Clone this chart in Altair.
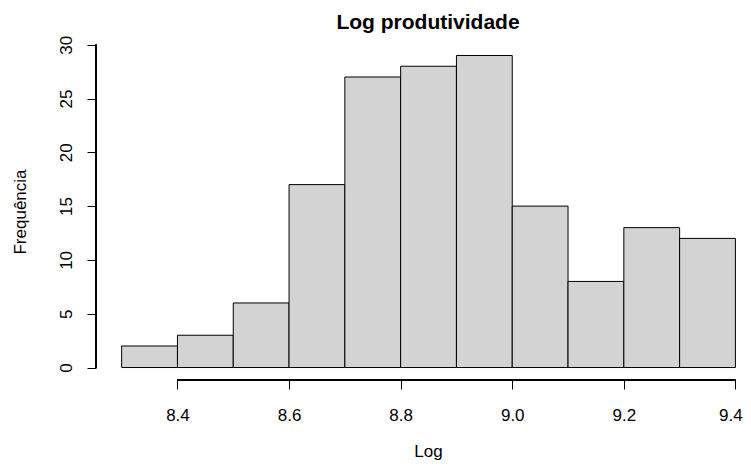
import altair as alt
import pandas as pd

bin_start = [8.3, 8.4, 8.5, 8.6, 8.7, 8.8, 8.9, 9.0, 9.1, 9.2, 9.3]
bin_end = [8.4, 8.5, 8.6, 8.7, 8.8, 8.9, 9.0, 9.1, 9.2, 9.3, 9.4]
counts = [2, 3, 6, 17, 27, 28, 29, 15, 8, 13, 12]
x_ticks = [8.4, 8.6, 8.8, 9.0, 9.2, 9.4]
y_ticks = [0, 5, 10, 15, 20, 25, 30]

df = pd.DataFrame({"start": bin_start, "end": bin_end, "count": counts})

FONT = "Liberation Sans"
W, H = 645, 337

xscale = alt.Scale(domain=[8.254, 9.41], nice=False, zero=False)
yscale = alt.Scale(domain=[-1.16, 30.16], nice=False, zero=False)

x_axis = alt.Axis(
    values=x_ticks, format=".1f", domain=False, grid=False,
    tickSize=9, tickColor="black", tickWidth=1,
    labelFont=FONT, labelFontSize=17, labelColor="black",
    labelBaseline="alphabetic", labelAlign="center", labelPadding=31,
    labelOffset=alt.expr("datum.value >= 9.35 ? -5 : 0"),
    title="Log", titleFont=FONT, titleFontSize=17, titleFontWeight="normal",
    titleColor="black", titleX=332, titleY=76, titleBaseline="alphabetic",
    titleAlign="center", labelFlush=False, labelOverlap=False,
)
y_axis = alt.Axis(
    values=y_ticks, domain=False, grid=False,
    tickSize=9, tickColor="black", tickWidth=1,
    labelFont=FONT, labelFontSize=17, labelColor="black",
    labelAngle=270, labelAlign="center", labelBaseline="alphabetic",
    labelPadding=15.5, labelFlush=False, labelOverlap=False,
    title="Frequência", titleFont=FONT, titleFontSize=17,
    titleFontWeight="normal", titleColor="black", titleAngle=270,
    titleX=-71, titleY=H / 2, titleAlign="center", titleBaseline="alphabetic",
)

bars = alt.Chart(df).mark_rect(
    fill="#D3D3D3", stroke="black", strokeWidth=1
).encode(
    x=alt.X("start:Q", scale=xscale, axis=x_axis),
    x2="end:Q",
    y=alt.Y("count:Q", scale=yscale, axis=y_axis),
    y2=alt.datum(0),
)

x_line = alt.Chart(df).mark_rule(color="black", strokeWidth=1).encode(
    x=alt.datum(min(x_ticks), scale=xscale),
    x2=alt.datum(max(x_ticks)),
    y=alt.value(H),
)
y_line = alt.Chart(df).mark_rule(color="black", strokeWidth=1).encode(
    y=alt.datum(min(y_ticks), scale=yscale),
    y2=alt.datum(max(y_ticks)),
    x=alt.value(0),
)

chart = alt.layer(bars, x_line, y_line).properties(
    width=W, height=H,
    background="white",
    title=alt.TitleParams(
        "Log produtividade", font=FONT, fontSize=21, fontWeight="bold",
        color="black", anchor="middle", dx=9.5, offset=2,
    ),
    autosize=alt.AutoSizeParams(type="none"),
    padding={"left": 88, "top": 35, "right": 2, "bottom": 82},
).configure_view(stroke=None)

chart.save("out.html", embed_options={"renderer": "svg", "actions": False})
